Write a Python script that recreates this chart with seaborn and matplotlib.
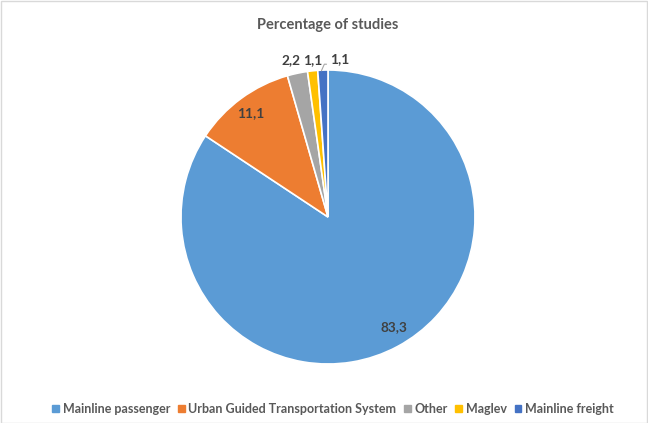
import numpy as np
import matplotlib
matplotlib.use("Agg")
import matplotlib.pyplot as plt
from matplotlib.patches import Rectangle
import seaborn as sns

categories = ["Mainline passenger", "Urban Guided Transportation System",
              "Other", "Maglev", "Mainline freight"]
values = [83.3, 11.1, 2.2, 1.1, 1.1]
value_labels = ["83,3", "11,1", "2,2", "1,1", "1,1"]
colors = ["#5B9BD5", "#ED7D31", "#A5A5A5", "#FFC000", "#4472C4"]

sns.set_theme(style="white")
plt.rcParams["font.family"] = ["Lato", "DejaVu Sans"]
palette = sns.color_palette(colors)

fig = plt.figure(figsize=(6.48, 4.23), dpi=100)
W, H = 648, 423
cx, cy, r_px, half = 328, 217, 147, 160
ax = fig.add_axes([(cx - half) / W, (H - cy - half) / H, 2 * half / W, 2 * half / H])

wedges, _ = ax.pie(values, colors=palette, startangle=90, counterclock=False,
                   radius=1.0, wedgeprops=dict(edgecolor="white", linewidth=1.2))
lim = half / r_px
ax.set_xlim(-lim, lim)
ax.set_ylim(-lim, lim)
ax.set_aspect("equal")
ax.axis("off")

# label placement: (angle offset from wedge middle in degrees, radial distance)
placement = [(2.8, 0.87), (0.2, 0.88), (1.4, 1.096), (-0.3, 1.075), (-6.3, 1.078)]
label_color = "#404040"
for w, txt, (dang, dist) in zip(wedges, value_labels, placement):
    mid = 0.5 * (w.theta1 + w.theta2)
    ang = np.deg2rad(mid + dang)
    x, y = dist * np.cos(ang), dist * np.sin(ang)
    ax.text(x, y, txt, ha="center", va="center", fontsize=9.8,
            fontweight="bold", color=label_color)

# leader line for the smallest wedge
w = wedges[-1]
mid = np.deg2rad(0.5 * (w.theta1 + w.theta2))
x0, y0 = 1.0 * np.cos(mid), 1.0 * np.sin(mid)
ax.plot([x0 - 0.01, x0 + 0.01, x0 + 0.025], [y0 - 0.005, y0 + 0.04, y0 + 0.04],
        color="#A6A6A6", lw=0.8, clip_on=False)

fig.text(cx / W, 1 - 25 / H, "Percentage of studies", ha="center",
         va="center", fontsize=10.5, fontweight="bold", color="#595959")

handles = [plt.Rectangle((0, 0), 1, 1, color=c) for c in palette]
leg = fig.legend(handles, categories, loc="center", bbox_to_anchor=(333 / W, 1 - 409 / H),
                 ncol=5, frameon=False, handlelength=0.55, handleheight=0.55,
                 handletextpad=0.3, columnspacing=0.6,
                 prop=dict(weight="bold", size=9.0))
for t in leg.get_texts():
    t.set_color("#595959")

fig.patches.append(Rectangle((0.5 / W, 0.5 / H), 1 - 1.5 / W, 1 - 1.5 / H,
                             transform=fig.transFigure, fill=False,
                             edgecolor="#D9D9D9", lw=1.0))

fig.savefig("out.png", dpi=100, facecolor="white")
